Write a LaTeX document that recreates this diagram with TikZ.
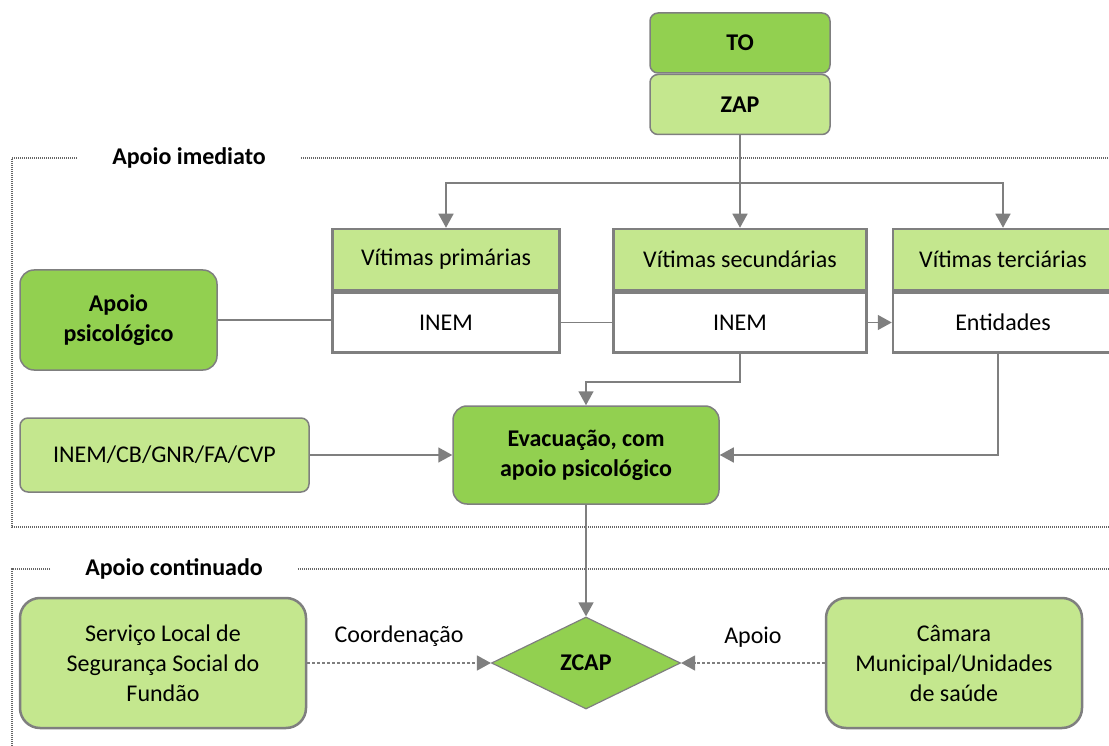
\documentclass[tikz,border=0pt]{standalone}
\usepackage{fontspec}
\setmainfont{Carlito}
\usetikzlibrary{arrows.meta,positioning,shapes.geometric}
\definecolor{Dark}{HTML}{92D050}
\definecolor{Light}{HTML}{C4E78E}
\definecolor{Edge}{HTML}{7F7F7F}

\begin{document}
\begin{tikzpicture}[
  x=1pt,y=-1pt,
  font=\fontsize{24}{30}\selectfont,
  box/.style={draw=Edge,line width=1.5pt,rounded corners=8pt,align=center,inner sep=0pt},
  dark/.style={box,fill=Dark,font=\fontsize{24}{30}\selectfont\bfseries},
  light/.style={box,fill=Light},
  head/.style={draw=Edge,line width=2.5pt,fill=Light,minimum height=61pt,inner sep=0pt},
  body/.style={head,fill=white,minimum height=60pt},
  zone/.style={font=\fontsize{24}{30}\selectfont\bfseries,inner ysep=0pt,inner xsep=35pt},
  frame/.style={draw=Edge!80!black,line width=1.2pt,dash pattern=on 1pt off 1pt},
  arrow/.style={-{Triangle[length=14pt,width=15pt]},draw=Edge,line width=1.5pt},
  link/.style={draw=Edge,line width=1.5pt},
  dashline/.style={draw=Edge,line width=1.2pt,dash pattern=on 3pt off 2pt}
]
\useasboundingbox (0,0) rectangle (1109,746);

% zonas
\node[zone] (imediato) at (189,158) {Apoio imediato};
\node[zone] (continuado) at (174,569) {Apoio continuado};
\draw[frame] (imediato.west) -| (12,527) -- (1112,527);
\draw[frame] (imediato.east) -- (1112,158);
\draw[frame] (continuado.west) -| (12,750);
\draw[frame] (continuado.east) -- (1112,569);

% topo
\node[dark,minimum width=180pt,minimum height=60pt] (to) at (740,43) {TO};
\node[light,font=\fontsize{24}{30}\selectfont\bfseries,minimum width=180pt,minimum height=60pt,below=0pt of to] (zap) {ZAP};

% vitimas
\node[head,minimum width=227pt] (prim) at (446,259.5) {Vítimas primárias};
\node[body,minimum width=227pt,below=0pt of prim] (primb) {INEM};
\node[head,minimum width=253pt] (sec) at (740,259.5) {Vítimas secundárias};
\node[body,minimum width=253pt,below=0pt of sec] (secb) {INEM};
\node[head,minimum width=220pt] (ter) at (1003,259.5) {Vítimas terciárias};
\node[body,minimum width=220pt,below=0pt of ter] (terb) {Entidades};

\node[dark,rounded corners=14pt,minimum width=197pt,minimum height=100pt] (psy) at (118.5,320) {Apoio\\psicológico};
\node[dark,rounded corners=14pt,minimum width=266pt,minimum height=98pt] (evac) at (586,455) {Evacuação, com\\apoio psicológico};
\node[light,minimum width=289pt,minimum height=74pt] (inem) at (164.5,455) {INEM/CB/GNR/FA/CVP};

% continuado
\node[diamond,draw=Edge,line width=1.2pt,fill=Dark,inner sep=0pt,minimum width=189pt,minimum height=92pt,font=\fontsize{24}{30}\selectfont\bfseries] (zcap) at (586,663) {ZCAP};
\node[light,line width=2.5pt,rounded corners=20pt,minimum width=286pt,minimum height=130pt] (serv) at (163,663) {Serviço Local de\\Segurança Social do\\Fundão};
\node[light,line width=2.5pt,rounded corners=20pt,minimum width=256pt,minimum height=130pt] (cam) at (954,663) {Câmara\\Municipal/Unidades\\de saúde};

\coordinate (fork) at (740,183);
\draw[arrow] (zap.south) -- (sec.north);
\draw[arrow] (fork) -| (prim.north);
\draw[arrow] (fork) -| (ter.north);
\draw[link] (psy.east) -- (psy.east -| primb.west);
\draw[link] (primb.east) -- (secb.west);
\draw[arrow] (secb.east) -- (terb.west);
\draw[arrow] (secb.south) -- ++(0,28) -| (evac.north);
\draw[arrow] ([xshift=-5pt]terb.south) |- (evac.east);
\draw[arrow] (inem.east) -- (evac.west);
\draw[arrow] (evac.south) -- (zcap.north);
\draw[dashline,arrow] (serv.east) -- node[above=12pt] {Coordenação} (zcap.west);
\draw[dashline,arrow] (cam.west) -- node[above=12pt] {Apoio} (zcap.east);
\end{tikzpicture}
\end{document}
